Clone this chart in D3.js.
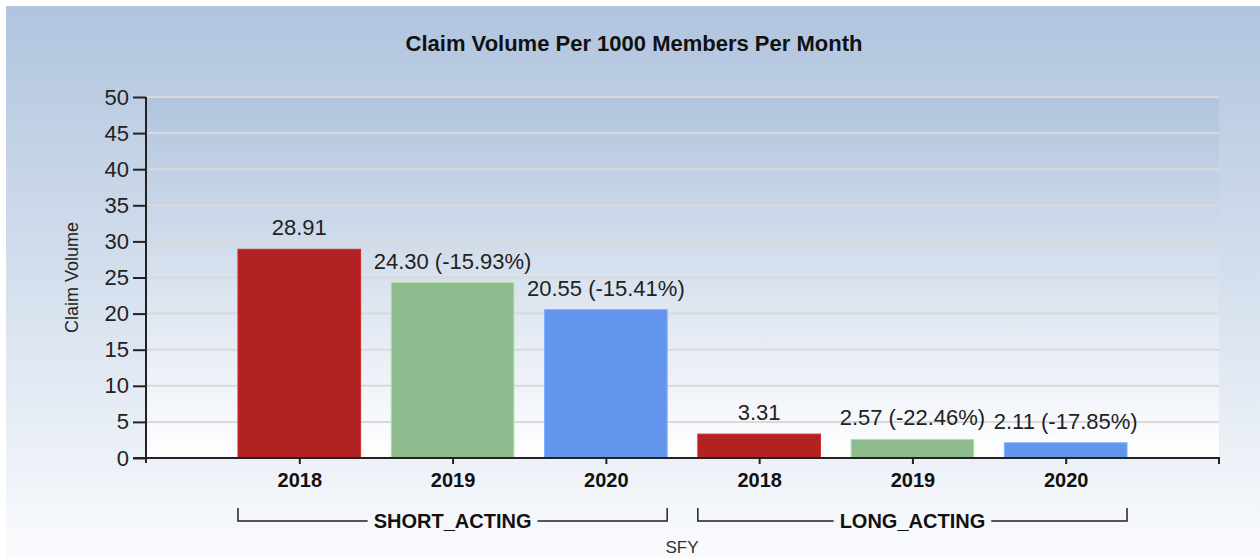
<!DOCTYPE html>
<html>
<head>
<meta charset="utf-8">
<script src="https://cdn.jsdelivr.net/npm/d3@7"></script>
<style>
  body { margin: 0; background: #fff; }
  svg { display: block; font-family: "Liberation Sans", Arial, sans-serif; }
</style>
</head>
<body>
<svg id="chart"></svg>
<script>
var WIDTH = 1260;
var HEIGHT = 559;

// data
var groups = ['SHORT_ACTING', 'LONG_ACTING'];
var years = ['2018', '2019', '2020'];
var shortActing = [28.91, 24.30, 20.55];
var longActing = [3.31, 2.57, 2.11];
var shortChange = [null, -15.93, -15.41];
var longChange = [null, -22.46, -17.85];
var yTicks = [0, 5, 10, 15, 20, 25, 30, 35, 40, 45, 50];
var colors = ['#b22222', '#8fbc8f', '#6495ed'];

var rows = [];
groups.forEach(function(g, gi) {
  var vals = gi === 0 ? shortActing : longActing;
  var chg = gi === 0 ? shortChange : longChange;
  years.forEach(function(yr, yi) {
    rows.push({ key: g + '|' + yr, group: g, year: yr, value: vals[yi], change: chg[yi], yi: yi });
  });
});

// plot box (window.top is reserved, so prefixed names)
var plotL = 146, plotR = 1219, plotT = 97, plotB = 458;

var svg = d3.select('#chart').attr('width', WIDTH).attr('height', HEIGHT);
var defs = svg.append('defs');

var outerGrad = defs.append('linearGradient').attr('id', 'outerGrad')
  .attr('x1', 0).attr('y1', 0).attr('x2', 0).attr('y2', 1);
outerGrad.append('stop').attr('offset', '0%').attr('stop-color', '#b0c4de');
outerGrad.append('stop').attr('offset', '100%').attr('stop-color', '#fafbfd');

var plotGrad = defs.append('linearGradient').attr('id', 'plotGrad')
  .attr('x1', 0).attr('y1', 0).attr('x2', 0).attr('y2', 1);
plotGrad.append('stop').attr('offset', '0%').attr('stop-color', '#b1c4de');
plotGrad.append('stop').attr('offset', '100%').attr('stop-color', '#ffffff');

svg.append('rect').attr('x', 6).attr('y', 6).attr('width', WIDTH - 6).attr('height', HEIGHT - 6)
  .attr('fill', 'url(#outerGrad)');
svg.append('rect').attr('x', plotL).attr('y', plotT).attr('width', plotR - plotL).attr('height', plotB - plotT)
  .attr('fill', 'url(#plotGrad)');

var x = d3.scalePoint().domain(rows.map(function(d) { return d.key; }))
  .range([plotL, plotR]).padding(1);
var barW = x.step() * 0.8;

var y = d3.scaleLinear().domain([0, 50]).range([plotB, plotT]);

// grid
svg.append('g').selectAll('line').data(yTicks.filter(function(t) { return t > 0; })).enter()
  .append('line')
  .attr('x1', plotL).attr('x2', plotR)
  .attr('y1', function(d) { return y(d); }).attr('y2', function(d) { return y(d); })
  .attr('stroke', '#d9d9d9').attr('stroke-width', 2);

// title
svg.append('text').attr('x', 634).attr('y', 51).attr('text-anchor', 'middle')
  .attr('font-size', 22).attr('font-weight', 'bold').attr('fill', '#111')
  .text('Claim Volume Per 1000 Members Per Month');

// bars
svg.append('g').selectAll('rect').data(rows).enter().append('rect')
  .attr('x', function(d) { return x(d.key) - barW / 2; })
  .attr('y', function(d) { return y(d.value); })
  .attr('width', barW)
  .attr('height', function(d) { return y(0) - y(d.value); })
  .attr('fill', function(d) { return colors[d.yi]; })
  .attr('stroke', function(d) { return d3.color(colors[d.yi]).brighter(0.5); })
  .attr('stroke-width', 1);

// value labels
svg.append('g').selectAll('text').data(rows).enter().append('text')
  .attr('x', function(d) { return x(d.key); })
  .attr('y', function(d) { return y(d.value) - 14; })
  .attr('text-anchor', 'middle').attr('font-size', 22).attr('fill', '#222')
  .text(function(d) {
    var s = d.value.toFixed(2);
    if (d.change !== null) s += ' (' + d.change.toFixed(2) + '%)';
    return s;
  });

// y axis
var yAxis = d3.axisLeft(y).tickValues(yTicks).tickSize(13).tickPadding(4);
var yg = svg.append('g').attr('transform', 'translate(' + plotL + ',0)').call(yAxis);
yg.select('.domain').attr('d', 'M0,' + plotT + 'V' + (plotB + 5)).attr('stroke', '#222').attr('stroke-width', 2);
yg.selectAll('.tick line').attr('stroke', '#222').attr('stroke-width', 2);
yg.selectAll('.tick text').attr('font-size', 22).attr('fill', '#222').attr('font-family', null);

// x axis
var xAxis = d3.axisBottom(x).tickSize(6).tickPadding(9)
  .tickFormat(function(k) { return k.split('|')[1]; });
var xg = svg.append('g').attr('transform', 'translate(0,' + plotB + ')').call(xAxis);
xg.select('.domain').attr('d', 'M' + (plotL - 13) + ',0H' + plotR + 'V6').attr('stroke', '#222').attr('stroke-width', 2);
xg.selectAll('.tick line').attr('stroke', '#222').attr('stroke-width', 2);
xg.selectAll('.tick text').attr('font-size', 20).attr('font-weight', 'bold').attr('fill', '#111')
  .attr('font-family', null);

// group brackets
groups.forEach(function(g) {
  var keys = rows.filter(function(d) { return d.group === g; }).map(function(d) { return d.key; });
  var x0 = x(keys[0]) - barW / 2;
  var x1 = x(keys[keys.length - 1]) + barW / 2;
  var mid = (x0 + x1) / 2;
  var yb = 521;
  var lbl = svg.append('text').attr('x', mid).attr('y', yb + 7).attr('text-anchor', 'middle')
    .attr('font-size', 20).attr('font-weight', 'bold').attr('fill', '#111').text(g);
  var w = lbl.node().getComputedTextLength() / 2 + 6;
  svg.append('path')
    .attr('d', 'M' + x0 + ',' + (yb - 13) + 'V' + yb + 'H' + (mid - w) +
      'M' + (mid + w) + ',' + yb + 'H' + x1 + 'V' + (yb - 13))
    .attr('fill', 'none').attr('stroke', '#222').attr('stroke-width', 1.5);
});

// axis titles
svg.append('text').attr('x', 682).attr('y', 553).attr('text-anchor', 'middle')
  .attr('font-size', 17).attr('fill', '#333').text('SFY');
svg.append('text').attr('transform', 'translate(78,' + ((plotT + plotB) / 2) + ') rotate(-90)')
  .attr('text-anchor', 'middle').attr('font-size', 18).attr('fill', '#222').text('Claim Volume');
</script>
</body>
</html>
